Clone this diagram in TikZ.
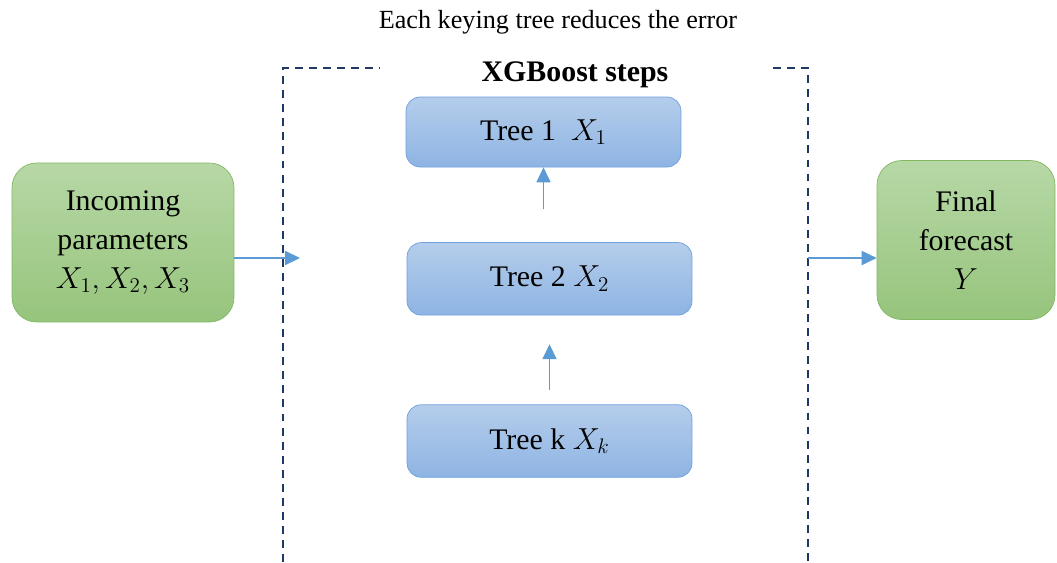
\documentclass[tikz,border=0pt]{standalone}
\usepackage{amsmath}
\usepackage{fontspec}
\setmainfont{Liberation Serif}
\usepackage{tikz}
\usetikzlibrary{arrows.meta,positioning}
\definecolor{greentop}{RGB}{183,216,166}
\definecolor{greenbot}{RGB}{150,196,124}
\definecolor{greenline}{RGB}{128,185,96}
\definecolor{bluetop}{RGB}{180,205,235}
\definecolor{bluebot}{RGB}{142,180,227}
\definecolor{blueline}{RGB}{110,160,220}
\definecolor{framecol}{RGB}{31,56,100}
\definecolor{arrowcol}{RGB}{91,155,213}
\tikzset{
    >={Triangle[length=8.5pt,width=8pt]},
    font=\rmfamily\fontsize{17}{22}\selectfont,
    tree box/.style={rectangle,rounded corners=8pt,draw=blueline,top color=bluetop,bottom color=bluebot,align=center,inner sep=0pt,minimum width=5.7cm,minimum height=1.45cm},
    end box/.style={rectangle,rounded corners=14pt,draw=greenline,top color=greentop,bottom color=greenbot,align=center,inner sep=0pt,minimum height=3.18cm},
    flow/.style={->,draw=arrowcol,fill=arrowcol,line width=0.9pt},
    frame/.style={draw=framecol,line width=1.2pt,dash pattern=on 4.5pt off 3.5pt}
}
\begin{document}
\begin{tikzpicture}[x=0.02cm,y=-0.02cm]
    \useasboundingbox (0,0) rectangle (1057,562);
    \clip (0,0) rectangle (1057,562);
    % dashed frame around the boosting steps
    \draw[frame] (283,562) -- (283,68) -- (380,68);
    \draw[frame] (773,68) -- (808,68) -- (808,562);
    \node (title) at (558,22) {\fontsize{14.9}{17}\selectfont Each keying tree reduces the error};
    \node (steps) at (575,75) {\textbf{XGBoost steps}};
    \node[tree box] (tk) at (549.5,441) {Tree k $X_k$};
    \node[tree box] (t2) [above = 1.78cm of tk] {Tree 2 $X_2$};
    \node[tree box, minimum width=5.5cm, minimum height=1.4cm] (t1) at (543.5,132) {Tree 1~~$X_1$};
    \node[end box, minimum width=4.44cm] (in) at (123,242.5) {Incoming\\parameters\\$X_1, X_2, X_3$};
    \node[end box, minimum width=3.56cm] (out) at (966,240) {Final\\forecast\\$Y$};
    \coordinate (inarr) at (300,258);
    \coordinate (outarr) at (808,258);
    \path[]
        (in.east |- inarr) edge [flow] (inarr)
        (outarr) edge [flow] (out.west |- outarr)
        (tk) edge [flow, shorten <=8pt, shorten >=16.4pt] (t2)
        (t1.south |- t2.north) edge [flow, shorten <=18.7pt] (t1.south)
        ;
\end{tikzpicture}
\end{document}
